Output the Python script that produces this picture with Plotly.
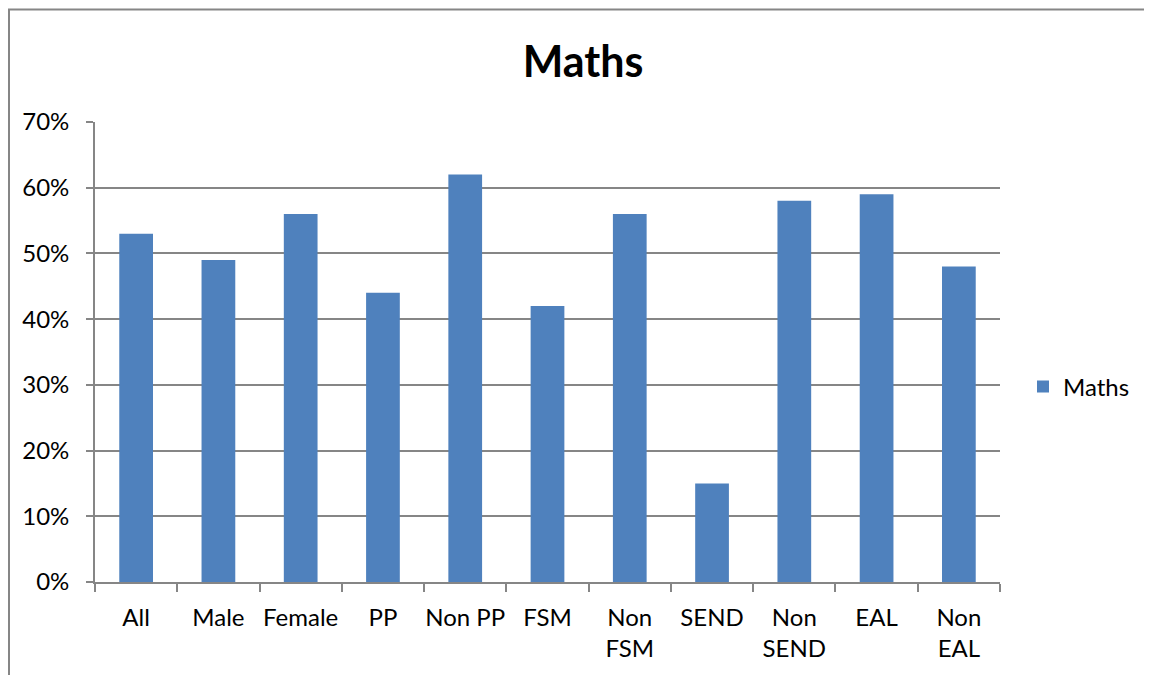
import plotly.graph_objects as go

categories = ["All", "Male", "Female", "PP", "Non PP", "FSM", "Non<br>FSM", "SEND", "Non<br>SEND", "EAL", "Non<br>EAL"]
maths = [0.53, 0.49, 0.56, 0.44, 0.62, 0.42, 0.56, 0.15, 0.58, 0.59, 0.48]
y_ticks = [0, 0.1, 0.2, 0.3, 0.4, 0.5, 0.6, 0.7]

FONT = "Lato, Open Sans, Liberation Sans, sans-serif"
GRID = "#868686"

W, H = 1144, 667
L, T, PW, PH = 87, 114, 905, 460

fig = go.Figure()
fig.add_trace(go.Bar(
    x=categories, y=maths, name="Maths",
    marker=dict(color="#4F81BD", line=dict(width=0)),
    width=0.41,
))

fig.update_layout(
    width=W, height=H,
    margin=dict(l=L, r=W - L - PW, t=T, b=H - T - PH, pad=0),
    paper_bgcolor="white", plot_bgcolor="white",
    font=dict(family=FONT, size=24, color="black"),
    title=dict(text="<b>Maths</b>", x=(583 - 8) / W, xref="container", xanchor="center",
               y=1 - (62 - 8) / H, yref="container", yanchor="middle",
               font=dict(family=FONT, size=43, color="black")),
    showlegend=True,
    legend=dict(x=(1015 - L) / PW, y=(T + PH - 379) / PH, xanchor="left", yanchor="middle",
                font=dict(size=24), bgcolor="rgba(0,0,0,0)", itemwidth=30),
)

fig.update_xaxes(
    showline=True, linecolor=GRID, linewidth=1.8,
    ticks="outside", tickson="boundaries", ticklen=8, tickcolor=GRID, tickwidth=1.8,
    showgrid=False, tickfont=dict(size=24), tickangle=0, ticklabelstandoff=13,
)
fig.update_yaxes(
    range=[0, 0.7], tickvals=y_ticks, tickformat=".0%",
    showline=True, linecolor=GRID, linewidth=1.8,
    ticks="outside", ticklen=7, tickcolor=GRID, tickwidth=1.8,
    showgrid=True, gridcolor=GRID, gridwidth=1.8, zeroline=False,
    tickfont=dict(size=24), ticklabelstandoff=12,
)

# Chart frame
fig.add_shape(type="rect", xref="paper", yref="paper",
              x0=(1 - L) / PW, x1=(W + 20 - L) / PW,
              y0=-(H + 20 - T - PH) / PH, y1=(T + PH - 1.5) / PH,
              line=dict(color=GRID, width=2), fillcolor="rgba(0,0,0,0)", layer="below")

fig.write_html("out.html")
